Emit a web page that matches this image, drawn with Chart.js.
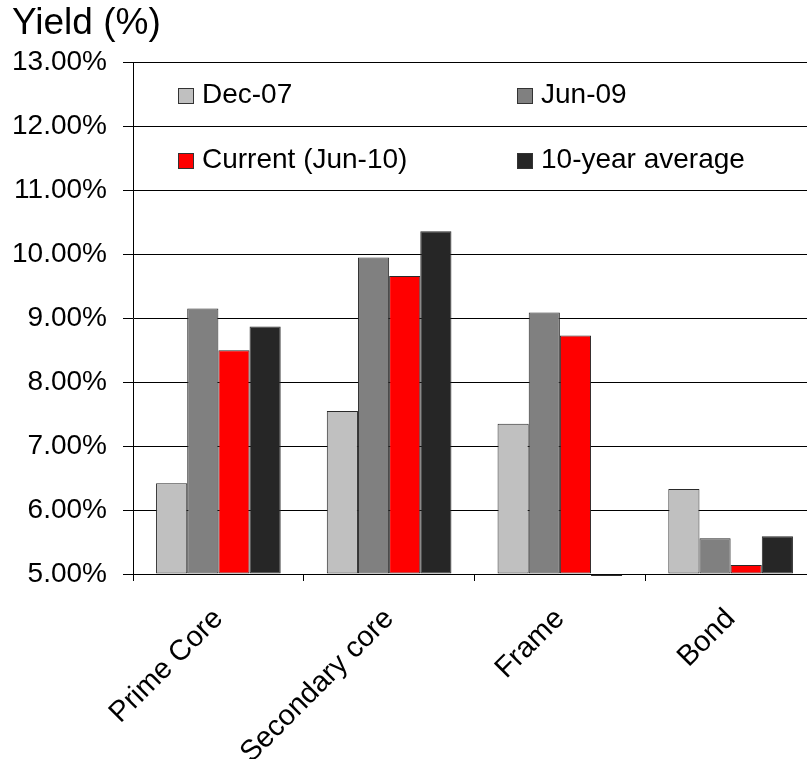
<!DOCTYPE html>
<html>
<head>
<meta charset="utf-8">
<script src="https://cdn.jsdelivr.net/npm/chart.js@4"></script>
<style>
    html, body { margin: 0; padding: 0; background: #fff; overflow: hidden; }
    .wrap { width: 807px; height: 759px; overflow: hidden; }
    canvas { display: block; }
</style>
</head>
<body>
<div class="wrap"><canvas id="myChart" width="816" height="800"></canvas></div>
<script>
// data
const categories = ['Prime Core', 'Secondary core', 'Frame', 'Bond'];
const dec07 = [6.42, 7.55, 7.35, 6.33];
const jun09 = [9.15, 9.95, 9.09, 5.56];
const current = [8.50, 9.66, 8.73, 5.14];
const tenYearAvg = [8.87, 10.36, 4.97, 5.59];
const yTicks = [5, 6, 7, 8, 9, 10, 11, 12, 13];

const FONT = '"Liberation Sans", Arial, sans-serif';

// legend sits inside the plot, 2 x 2
const boxLegend = {
    id: 'boxLegend',
    afterDraw(chart) {
        const c = chart.ctx;
        const spots = [[178, 103], [517, 103], [178, 168], [517, 168]];
        c.save();
        c.font = '28px ' + FONT;
        c.textBaseline = 'alphabetic';
        chart.data.datasets.forEach((ds, i) => {
            const x = spots[i][0], y = spots[i][1];
            c.fillStyle = ds.backgroundColor;
            c.fillRect(x, y - 15, 15, 15);
            c.strokeStyle = '#333';
            c.lineWidth = 1;
            c.strokeRect(x + 0.5, y - 14.5, 15, 15);
            c.fillStyle = '#000';
            c.fillText(ds.label, x + 24, y);
        });
        c.restore();
    }
};

const ctx = document.getElementById('myChart');

new Chart(ctx, {
    type: 'bar',
    data: {
        labels: categories,
        datasets: [
            { label: 'Dec-07', data: dec07, backgroundColor: '#c0c0c0' },
            { label: 'Jun-09', data: jun09, backgroundColor: '#808080' },
            { label: 'Current (Jun-10)', data: current, backgroundColor: '#ff0000' },
            { label: '10-year average', data: tenYearAvg, backgroundColor: '#262626' }
        ]
    },
    options: {
        responsive: false,
        animation: false,
        devicePixelRatio: 1,
        layout: { padding: { left: 12, right: 0, top: 0, bottom: 0 } },
        datasets: {
            bar: {
                base: 5,
                borderColor: '#2a2a2a',
                borderWidth: 1,
                borderSkipped: false,
                barPercentage: 1,
                categoryPercentage: 0.73,
                clip: false
            }
        },
        plugins: {
            legend: { display: false },
            tooltip: { enabled: false },
            title: {
                display: true,
                text: 'Yield (%)',
                align: 'start',
                color: '#000',
                font: { family: FONT, size: 37, weight: 'normal' },
                padding: { top: 2, bottom: 16 }
            }
        },
        scales: {
            x: {
                grid: {
                    display: true,
                    drawOnChartArea: false,
                    drawTicks: true,
                    tickLength: 7,
                    color: '#000',
                    offset: true
                },
                border: { color: '#000', width: 1 },
                ticks: {
                    color: '#000',
                    font: { family: FONT, size: 29 },
                    minRotation: 45,
                    maxRotation: 45,
                    autoSkip: false,
                    padding: 21
                },
                afterFit: (s) => { s.height = 226; }
            },
            y: {
                min: yTicks[0],
                max: yTicks[yTicks.length - 1],
                afterBuildTicks: (s) => { s.ticks = yTicks.map(v => ({ value: v })); },
                grid: { color: '#000', lineWidth: 1, tickLength: 10 },
                border: { color: '#000', width: 1 },
                ticks: {
                    color: '#000',
                    font: { family: FONT, size: 28 },
                    padding: 16,
                    callback: (v) => v.toFixed(2) + '%'
                },
                afterFit: (s) => { s.width = 121; }
            }
        }
    },
    plugins: [boxLegend]
});
</script>
</body>
</html>
